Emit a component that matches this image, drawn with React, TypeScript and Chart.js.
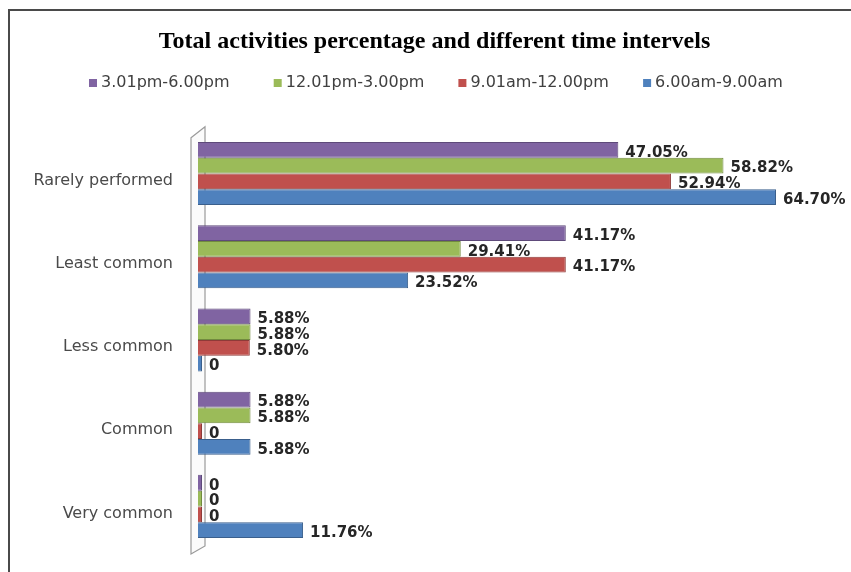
import React, { useEffect, useRef } from "react";
import { Chart, registerables } from "chart.js";

Chart.register(...registerables);

const categories = ["Rarely performed", "Least common", "Less common", "Common", "Very common"];
const seriesNames = ["3.01pm-6.00pm", "12.01pm-3.00pm", "9.01am-12.00pm", "6.00am-9.00am"];
const pm3to6 = [47.05, 41.17, 5.88, 5.88, 0];
const pm12to3 = [58.82, 29.41, 5.88, 5.88, 0];
const am9to12 = [52.94, 41.17, 5.8, 0, 0];
const am6to9 = [64.7, 23.52, 0, 5.88, 11.76];
const seriesColors = ["#8064A2", "#9BBB59", "#C0504D", "#4F81BD"];
const seriesBorders = ["#5E4A7A", "#718A3F", "#8E3A38", "#3A5F8C"];

const LEGEND_LEFT = 89;
const LEGEND_SLOT = 184.7;
const LEGEND_Y = 83;

const decorations = {
  id: "decorations",
  beforeDraw(chart: any) {
    const ctx = chart.ctx;
    ctx.save();
    ctx.fillStyle = "#ffffff";
    ctx.fillRect(0, 0, chart.width, chart.height);
    ctx.strokeStyle = "#4a4a4a";
    ctx.lineWidth = 2;
    ctx.beginPath();
    ctx.moveTo(9, chart.height);
    ctx.lineTo(9, 10);
    ctx.lineTo(chart.width, 10);
    ctx.stroke();
    ctx.restore();
  },
  afterDraw(chart: any) {
    const ctx = chart.ctx;
    ctx.save();
    ctx.font = "16px 'DejaVu Sans'";
    ctx.textBaseline = "middle";
    ctx.textAlign = "left";
    chart.data.datasets.forEach((ds: any, i: number) => {
      const x = LEGEND_LEFT + i * LEGEND_SLOT;
      ctx.fillStyle = ds.backgroundColor;
      ctx.fillRect(x, LEGEND_Y - 4, 8, 8);
      ctx.fillStyle = "#404040";
      ctx.fillText(ds.label, x + 12, LEGEND_Y);
    });
    ctx.restore();
  },
  beforeDatasetsDraw(chart: any) {
    const { ctx, chartArea } = chart;
    const L = chartArea.left;
    const T = chartArea.top;
    const B = chartArea.bottom;
    ctx.save();
    ctx.strokeStyle = "#9a9a9a";
    ctx.fillStyle = "#fbfbfb";
    ctx.lineWidth = 1.2;
    ctx.beginPath();
    ctx.moveTo(L - 7, T + 6);
    ctx.lineTo(L + 7, T - 5);
    ctx.lineTo(L + 7, B - 2);
    ctx.lineTo(L - 7, B + 6);
    ctx.closePath();
    ctx.fill();
    ctx.stroke();
    ctx.restore();
  },
  afterDatasetsDraw(chart: any) {
    const ctx = chart.ctx;
    ctx.save();
    ctx.font = "bold 15px 'DejaVu Sans'";
    ctx.fillStyle = "#262626";
    ctx.textBaseline = "middle";
    ctx.textAlign = "left";
    chart.data.datasets.forEach((ds: any, i: number) => {
      const meta = chart.getDatasetMeta(i);
      meta.data.forEach((bar: any, j: number) => {
        const v = ds.data[j];
        const txt = v === 0 ? "0" : v.toFixed(2) + "%";
        ctx.fillText(txt, bar.x + 7, bar.y + 3);
      });
    });
    ctx.restore();
  },
};

export default function App() {
  const ref = useRef<HTMLCanvasElement | null>(null);
  useEffect(() => {
    if (!ref.current) return;
    const data = [pm3to6, pm12to3, am9to12, am6to9];
    const chart = new Chart(ref.current, {
      type: "bar",
      data: {
        labels: categories,
        datasets: seriesNames.map((name, i) => ({
          label: name,
          data: data[i],
          backgroundColor: seriesColors[i],
          borderColor: seriesBorders[i],
          borderWidth: 1,
          borderSkipped: "left",
          minBarLength: 4,
          categoryPercentage: 0.757,
          barPercentage: 1.0,
        })),
      },
      options: {
        indexAxis: "y",
        animation: false,
        responsive: true,
        maintainAspectRatio: false,
        layout: { padding: { top: 0, right: 12, bottom: 24, left: 30 } },
        plugins: {
          title: {
            display: true,
            text: "Total activities percentage and different time intervels",
            color: "#000000",
            font: { family: "'Liberation Serif'", size: 24, weight: "bold" },
            padding: { top: 27, bottom: 76 },
          },
          legend: { display: false },
          tooltip: { enabled: false },
        },
        scales: {
          x: {
            display: false,
            min: 0,
            max: 71.75,
            grid: { display: false },
          },
          y: {
            grid: { display: false, drawTicks: true, tickLength: 25 },
            border: { display: false },
            ticks: {
              padding: 0,
              labelOffset: 7,
              color: "#4a4a4a",
              font: { family: "'DejaVu Sans'", size: 16 },
            },
            afterFit(scale: any) {
              scale.width = 168;
            },
          },
        },
      },
      plugins: [decorations],
    });
    return () => chart.destroy();
  }, []);
  return (
    <div style={{ position: "fixed", left: 0, top: 0, width: 851, height: 572, background: "#fff" }}>
      <canvas ref={ref} />
    </div>
  );
}
